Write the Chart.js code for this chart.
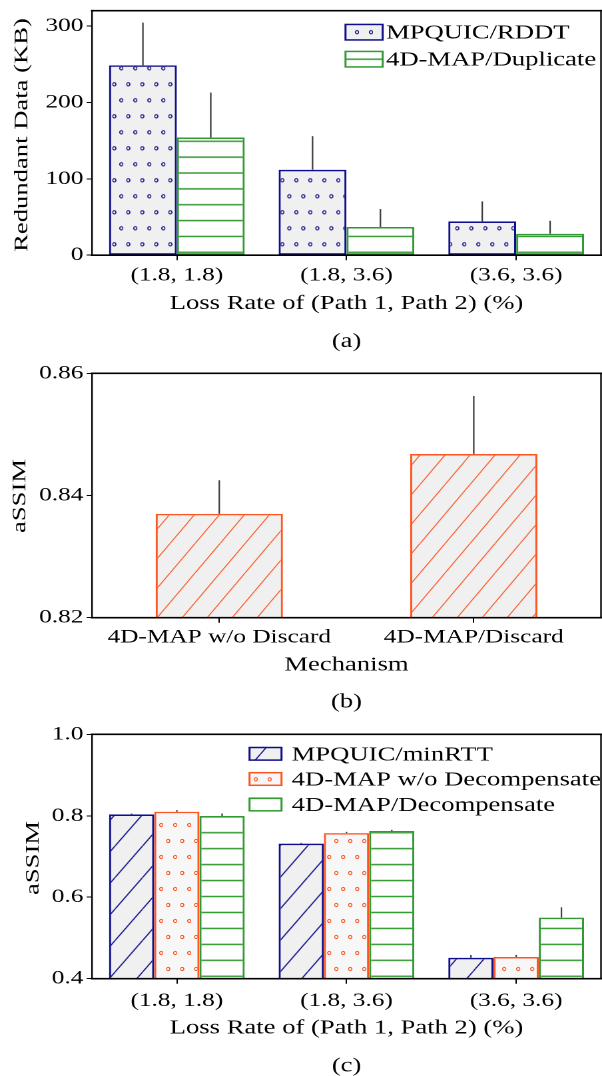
<!DOCTYPE html>
<html>
<head>
<meta charset="utf-8">
<script src="https://cdn.jsdelivr.net/npm/chart.js@4.4.0/dist/chart.umd.min.js"></script>
<style>
html,body{margin:0;padding:0;background:#fff;}
#wrap{position:relative;width:602px;height:1076px;overflow:hidden;background:#fff;}
canvas{position:absolute;left:0;transform-origin:0 0;}
</style>
</head>
<body>
<div id="wrap">
<canvas id="ca" width="452" height="360" style="top:0px"></canvas>
<canvas id="cb" width="452" height="365" style="top:360px"></canvas>
<canvas id="cc" width="452" height="351" style="top:725px"></canvas>
</div>
<script>
// ---------------- data ----------------
const categoriesA = ['(1.8, 1.8)', '(1.8, 3.6)', '(3.6, 3.6)'];
const rddtA = [248.5, 111.8, 44.3];
const rddtErrA = [55.9, 44.0, 26.1];
const duplicateA = [154.1, 36.9, 28.1];
const duplicateErrA = [58.8, 23.5, 17.0];
const yTicksA = [0, 100, 200, 300];

const categoriesB = ['4D-MAP w/o Discard', '4D-MAP/Discard'];
const assimB = [0.8370, 0.8468];
const assimErrB = [0.0055, 0.0095];
const yTicksB = [0.82, 0.84, 0.86];

const categoriesC = ['(1.8, 1.8)', '(1.8, 3.6)', '(3.6, 3.6)'];
const minrttC = [0.8035, 0.7315, 0.4515];
const minrttErrC = [0.002, 0.002, 0.0066];
const noDecompC = [0.8100, 0.7575, 0.4535];
const noDecompErrC = [0.004, 0.003, 0.005];
const decompC = [0.7995, 0.7625, 0.5500];
const decompErrC = [0.006, 0.003, 0.0253];
const yTicksC = [0.4, 0.6, 0.8, 1.0];

const seriesNamesA = ['MPQUIC/RDDT', '4D-MAP/Duplicate'];
const seriesNamesB = ['aSSIM'];
const seriesNamesC = ['MPQUIC/minRTT', '4D-MAP w/o Decompensate', '4D-MAP/Decompensate'];
const xTitleLoss = 'Loss Rate of (Path 1, Path 2) (%)';
const xTitleMech = 'Mechanism';
const yTitleA = 'Redundant Data (KB)';
const yTitleB = 'aSSIM';
const yTitleC = 'aSSIM';
const captionA = '(a)', captionB = '(b)', captionC = '(c)';

// ---------------- style ----------------
const S = 602 / 452;   // horizontal stretch of the canvases
const R = 2;           // render resolution
const NAVY = '#0e0e8c';
const ORANGE = '#ff5521';
const GREEN = '#329a32';
const FONT = "'Liberation Serif', 'Times New Roman', serif";
Chart.defaults.font.family = FONT;
Chart.defaults.color = '#000';

function makePattern(ctx, spec, X0, Y0, canvasTop) {
  const {kind, color, bg, w, h, lw} = spec;
  const sy = spec.sy || 1;
  const c = document.createElement('canvas');
  c.width = Math.round(w * R); c.height = Math.round(h * R);
  const g = c.getContext('2d');
  g.scale(R, R);
  g.fillStyle = bg; g.fillRect(0, 0, w, h);
  g.strokeStyle = color; g.lineWidth = lw;
  if (kind === 'dots') {
    [[w / 4, h / 4], [3 * w / 4, 3 * h / 4]].forEach(([dx, dy]) => {
      g.beginPath(); g.arc(dx, dy, 1.6, 0, Math.PI * 2); g.stroke();
    });
  } else if (kind === 'diag') {
    g.beginPath();
    [-1, 0, 1].forEach(k => { g.moveTo(k * w, h); g.lineTo((k + 1) * w, 0); });
    g.stroke();
  } else if (kind === 'hline') {
    g.beginPath(); g.moveTo(0, h / 2); g.lineTo(w, h / 2); g.stroke();
  }
  const p = ctx.createPattern(c, 'repeat');
  p.setTransform(new DOMMatrix([1 / (S * R), 0, 0, sy / R, X0 / S, Y0 - canvasTop]));
  return p;
}

// ---------------- plugins ----------------
const frame = {
  id: 'frame',
  afterDatasetsDraw(chart) {
    const {ctx, chartArea: a} = chart;
    ctx.save();
    ctx.strokeStyle = '#000';
    ctx.lineCap = 'square';
    ctx.lineWidth = 1.6;
    ctx.beginPath();
    ctx.moveTo(a.left, a.top); ctx.lineTo(a.right, a.top);
    ctx.moveTo(a.left, a.bottom); ctx.lineTo(a.right, a.bottom);
    ctx.stroke();
    ctx.lineCap = 'butt';
    ctx.lineWidth = 1.6 / S;
    ctx.beginPath();
    ctx.moveTo(a.left, a.top - 0.8); ctx.lineTo(a.left, a.bottom + 0.8);
    ctx.moveTo(a.right, a.top - 0.8); ctx.lineTo(a.right, a.bottom + 0.8);
    ctx.stroke();
    ctx.restore();
  }
};

const errBars = {
  id: 'errBars',
  afterDatasetsDraw(chart, args, o) {
    const ctx = chart.ctx, ys = chart.scales.y;
    ctx.save();
    ctx.strokeStyle = o.color;
    ctx.lineWidth = o.width;
    chart.data.datasets.forEach((ds, i) => {
      if (!ds.errors) return;
      const meta = chart.getDatasetMeta(i);
      meta.data.forEach((el, j) => {
        const v = ds.data[j], e = ds.errors[j];
        ctx.beginPath();
        ctx.moveTo(el.x, ys.getPixelForValue(v));
        ctx.lineTo(el.x, ys.getPixelForValue(v + e));
        ctx.stroke();
      });
    });
    ctx.restore();
  }
};

const patLegend = {
  id: 'patLegend',
  afterDraw(chart, args, o) {
    if (!o || !o.rows) return;
    const ctx = chart.ctx;
    ctx.save();
    o.rows.forEach((rowY, i) => {
      const ds = chart.data.datasets[i];
      const cy = rowY - o.canvasTop;
      const x = o.boxX / S, w = o.boxW / S, h = o.boxH;
      ctx.fillStyle = ds.legendFill;
      ctx.fillRect(x, cy - h / 2, w, h);
      ctx.strokeStyle = ds.borderColor;
      ctx.lineWidth = 1.5;
      ctx.strokeRect(x, cy - h / 2, w, h);
      ctx.fillStyle = '#000';
      ctx.font = '20px ' + FONT;
      ctx.textAlign = 'left';
      ctx.textBaseline = 'middle';
      ctx.fillText(ds.label, o.textX / S, cy + o.textDy);
    });
    ctx.restore();
  }
};

const yTitle = {
  id: 'yTitle',
  afterDraw(chart, args, o) {
    if (!o || !o.text) return;
    const ctx = chart.ctx;
    ctx.save();
    ctx.translate(o.baseX / S, o.centerY - o.canvasTop);
    ctx.scale(1 / S, 1);
    ctx.rotate(-Math.PI / 2);
    ctx.scale(S, 1);
    ctx.font = '20px ' + FONT;
    ctx.fillStyle = '#000';
    ctx.textAlign = 'center';
    ctx.textBaseline = 'alphabetic';
    ctx.fillText(o.text, 0, 0);
    ctx.restore();
  }
};

function options(o) {
  return {
    responsive: false,
    animation: false,
    devicePixelRatio: R,
    layout: {padding: {left: 0, right: 452 - 601 / S, top: o.top, bottom: 0}},
    plugins: {
      legend: {display: false},
      tooltip: {enabled: false},
      title: {
        display: true, text: o.caption, position: 'bottom', fullSize: false,
        color: '#000', font: {size: 20, weight: 'normal', lineHeight: 1},
        padding: {top: o.capTop, bottom: o.capBottom}
      },
      yTitle: {text: o.yTitle, baseX: o.yTitleX, centerY: o.yTitleY, canvasTop: o.canvasTop},
      patLegend: o.legend || {},
      errBars: {color: '#3c3c3c', width: 1.5 / S}
    },
    scales: {
      x: {
        type: 'category',
        offset: true,
        grid: {display: true, drawOnChartArea: false, drawTicks: true, tickLength: 5, color: '#000', lineWidth: 1, offset: false},
        border: {display: false},
        ticks: {color: '#000', font: {size: 19}, padding: o.xTickPad, maxRotation: 0, minRotation: 0, autoSkip: false},
        title: {display: true, text: o.xTitle, color: '#000', font: {size: 20}, padding: {top: 0, bottom: 0}},
        afterFit: (s) => { s.height = o.xHeight; s.paddingLeft = 0; s.paddingRight = 0; }
      },
      y: {
        type: 'linear',
        min: o.yMin, max: o.yMax,
        grid: {display: true, drawOnChartArea: false, drawTicks: true, tickLength: 4, color: '#000', lineWidth: 1},
        border: {display: false},
        ticks: {color: '#000', font: {size: 19}, padding: 2.5, callback: o.fmt},
        afterBuildTicks: (s) => { s.ticks = o.yTicks.map(v => ({value: v})); },
        afterFit: (s) => { s.width = 92 / S; s.paddingTop = 0; s.paddingBottom = 0; }
      }
    }
  };
}

function setup(id, topPx) {
  const cv = document.getElementById(id);
  cv.style.transform = 'scaleX(' + S + ')';
  return cv.getContext('2d');
}

// ---------------- chart (a) ----------------
const ctxA = setup('ca', 0);
const dotsSpec = (color, bg) => ({kind: 'dots', color, bg, w: 14, h: 32, lw: 1.0});
const hlineSpec = (sy) => ({kind: 'hline', color: GREEN, bg: '#ffffff', w: 8, h: 16, lw: 1.5, sy});
new Chart(ctxA, {
  type: 'bar',
  data: {
    labels: categoriesA,
    datasets: [
      {label: seriesNamesA[0], data: rddtA, errors: rddtErrA,
       backgroundColor: makePattern(ctxA, dotsSpec(NAVY, '#f0f0f0'), 117.8, 220.3, 0),
       legendFill: makePattern(ctxA, dotsSpec(NAVY, '#f0f0f0'), 353.5, 24.2, 0),
       borderColor: NAVY, borderWidth: 1.6, borderSkipped: false, categoryPercentage: 0.8, barPercentage: 1},
      {label: seriesNamesA[1], data: duplicateA, errors: duplicateErrA,
       backgroundColor: makePattern(ctxA, hlineSpec(15.86 / 16), 0, 252.3 - 8 * 15.86 / 16, 0),
       legendFill: makePattern(ctxA, hlineSpec(1), 0, 51.2, 0),
       borderColor: GREEN, borderWidth: 1.6, borderSkipped: false, categoryPercentage: 0.8, barPercentage: 1}
    ]
  },
  options: options({
    top: 10.7, canvasTop: 0, caption: captionA, capTop: 16, capBottom: 8.3,
    xTitle: xTitleLoss, xTickPad: 4, xHeight: 60.5,
    yMin: 0, yMax: 320, yTicks: yTicksA, fmt: (v) => String(v),
    yTitle: yTitleA, yTitleX: 27, yTitleY: 135,
    legend: {canvasTop: 0, rows: [32.2, 59.2], boxX: 345.5, boxW: 37.2, boxH: 15.5, textX: 386, textDy: 1}
  }),
  plugins: [frame, errBars, patLegend, yTitle]
});

// ---------------- chart (b) ----------------
const ctxB = setup('cb', 360);
new Chart(ctxB, {
  type: 'bar',
  data: {
    labels: categoriesB,
    datasets: [
      {label: seriesNamesB[0], data: assimB, errors: assimErrB,
       backgroundColor: makePattern(ctxB, {kind: 'diag', color: ORANGE, bg: '#f0f0f0', w: 25, h: 29.5, lw: 1.0}, 170, 514, 360),
       borderColor: ORANGE, borderWidth: 1.6, borderSkipped: false, categoryPercentage: 1, barPercentage: 0.5}
    ]
  },
  options: options({
    top: 13.3, canvasTop: 360, caption: captionB, capTop: 15, capBottom: 13,
    xTitle: xTitleMech, xTickPad: 3.2, xHeight: 59.3,
    yMin: 0.82, yMax: 0.86, yTicks: yTicksB, fmt: (v) => Number(v).toFixed(2),
    yTitle: yTitleB, yTitleX: 25, yTitleY: 496
  }),
  plugins: [frame, errBars, yTitle]
});

// ---------------- chart (c) ----------------
const ctxC = setup('cc', 725);
new Chart(ctxC, {
  type: 'bar',
  data: {
    labels: categoriesC,
    datasets: [
      {label: seriesNamesC[0], data: minrttC, errors: minrttErrC,
       backgroundColor: makePattern(ctxC, {kind: 'diag', color: NAVY, bg: '#f0f0f0', w: 27.5, h: 31.5, lw: 1.2}, 142.7, 814.3, 725),
       legendFill: makePattern(ctxC, {kind: 'diag', color: NAVY, bg: '#f0f0f0', w: 27.5, h: 31.5, lw: 1.2}, 260.5, 754, 725),
       borderColor: NAVY, borderWidth: 1.6, borderSkipped: false, categoryPercentage: 0.8, barPercentage: 1},
      {label: seriesNamesC[1], data: noDecompC, errors: noDecompErrC,
       backgroundColor: makePattern(ctxC, dotsSpec(ORANGE, '#f7f7f7'), 157.7, 817, 725),
       legendFill: makePattern(ctxC, dotsSpec(ORANGE, '#f7f7f7'), 252.2, 771.3, 725),
       borderColor: ORANGE, borderWidth: 1.6, borderSkipped: false, categoryPercentage: 0.8, barPercentage: 1},
      {label: seriesNamesC[2], data: decompC, errors: decompErrC,
       backgroundColor: makePattern(ctxC, hlineSpec(15.96 / 16), 0, 976.3 - 8 * 15.96 / 16, 725),
       legendFill: makePattern(ctxC, hlineSpec(1), 0, 790.3, 725),
       borderColor: GREEN, borderWidth: 1.6, borderSkipped: false, categoryPercentage: 0.8, barPercentage: 1}
    ]
  },
  options: options({
    top: 9.3, canvasTop: 725, caption: captionC, capTop: 15.7, capBottom: 0,
    xTitle: xTitleLoss, xTickPad: 6, xHeight: 61.6,
    yMin: 0.4, yMax: 1.0, yTicks: yTicksC, fmt: (v) => Number(v).toFixed(1),
    yTitle: yTitleC, yTitleX: 38.4, yTitleY: 858,
    legend: {canvasTop: 725, rows: [753.8, 779, 804.5], boxX: 249.5, boxW: 32, boxH: 12.6, textX: 291.7, textDy: 1.2}
  }),
  plugins: [frame, errBars, patLegend, yTitle]
});
</script>
</body>
</html>
